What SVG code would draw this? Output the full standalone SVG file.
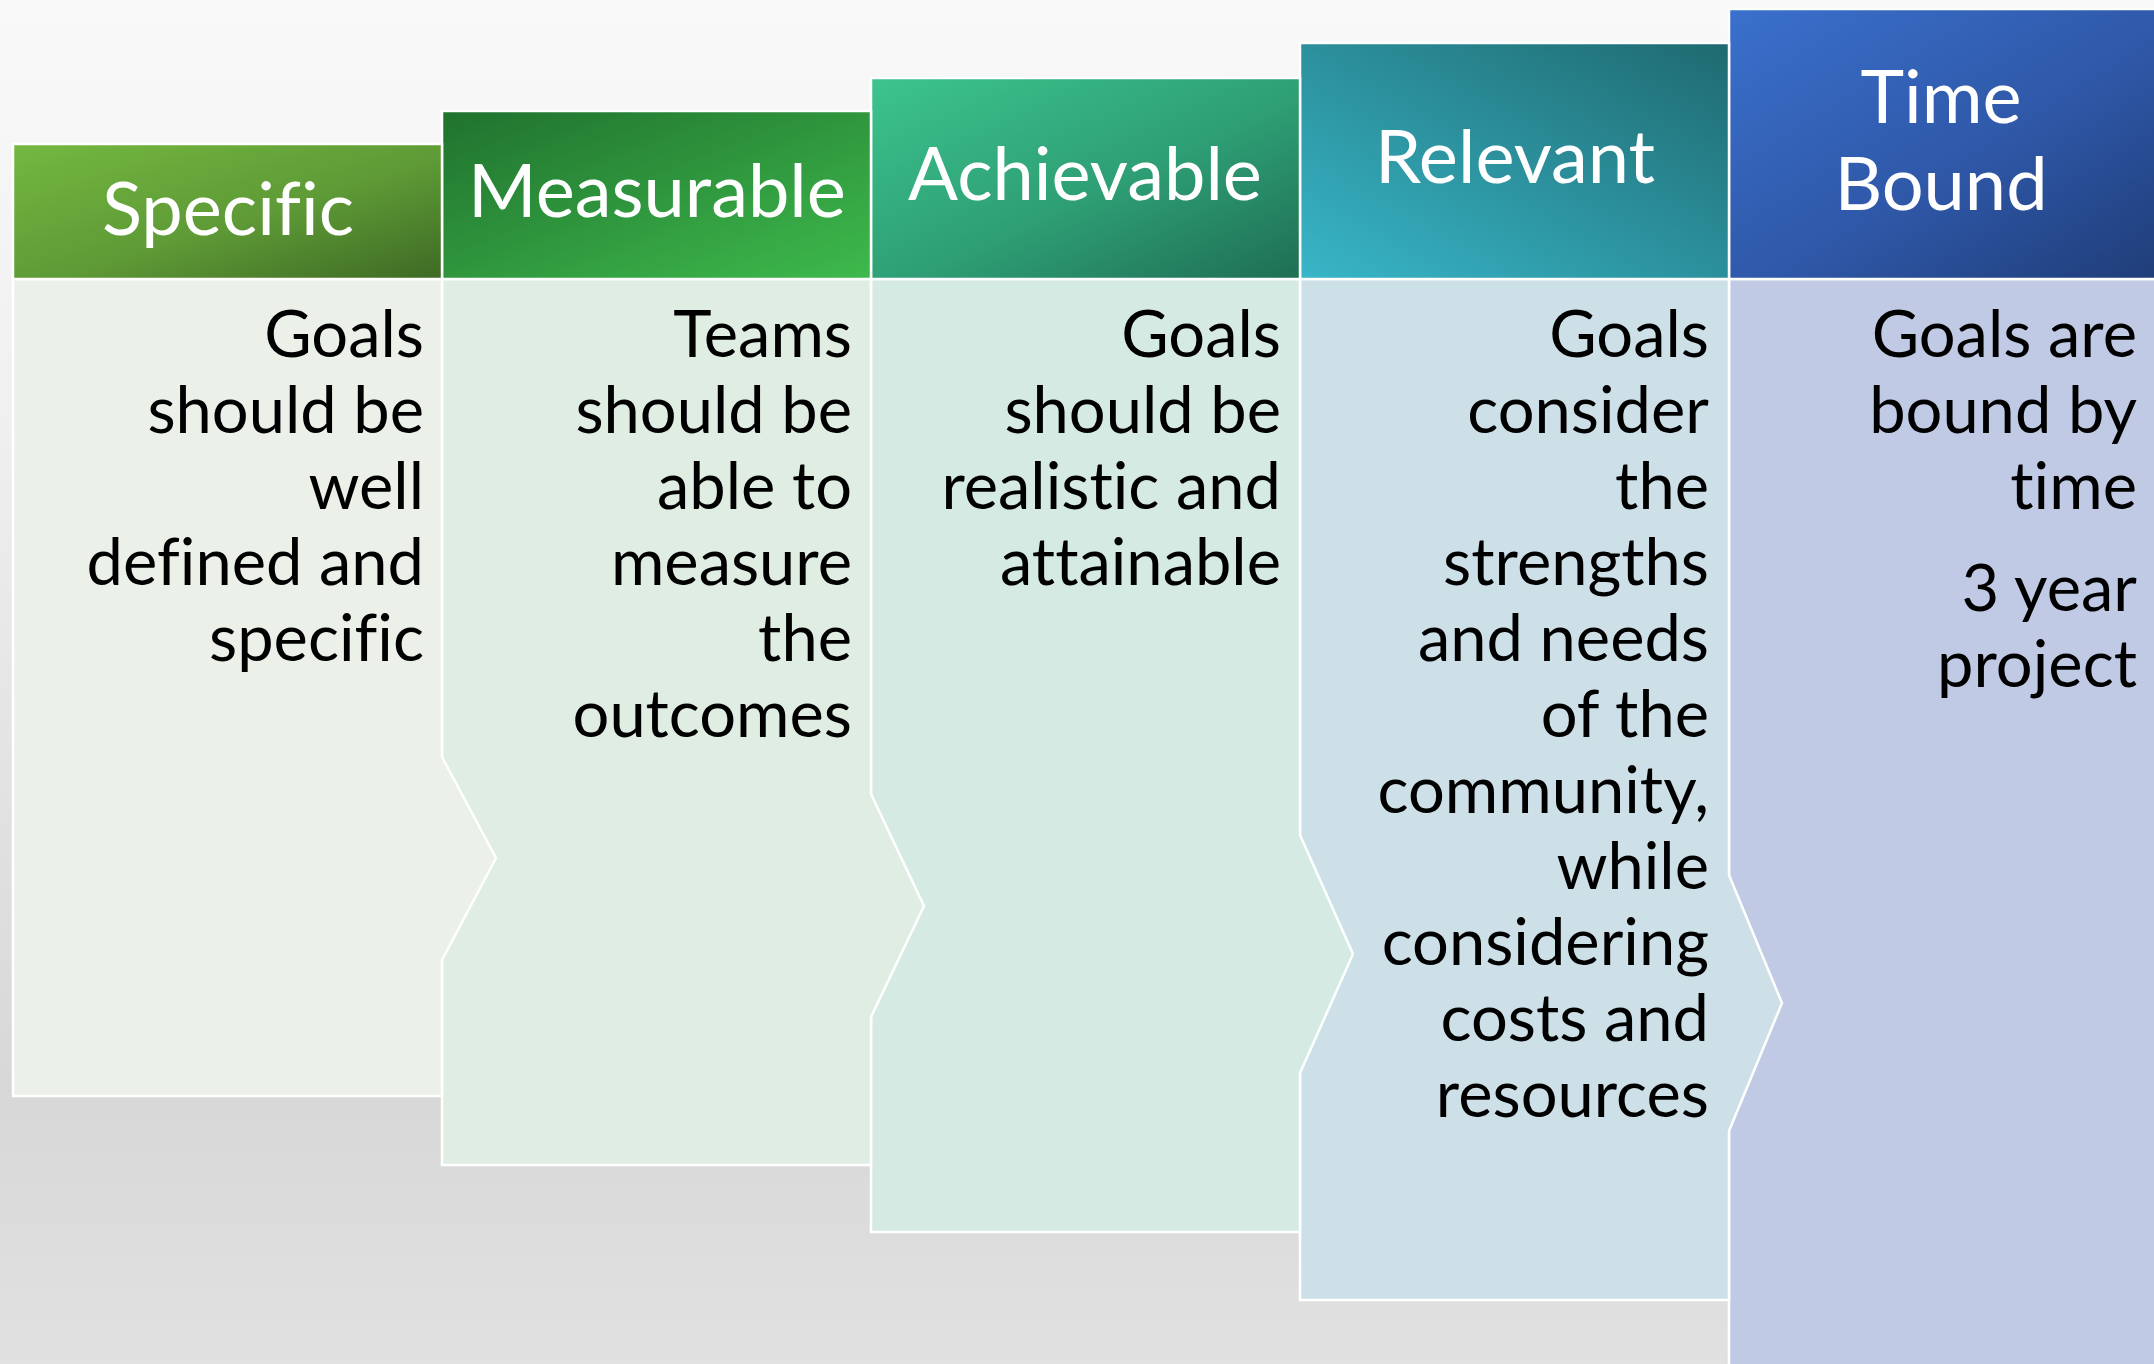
<svg xmlns="http://www.w3.org/2000/svg" width="2154" height="1364" viewBox="0 0 2154 1364">
<defs>
<linearGradient id="bg" x1="0" y1="0" x2="0" y2="1">
<stop offset="0" stop-color="#F9F9F9"/>
<stop offset="0.3" stop-color="#F0F0F0"/>
<stop offset="0.8" stop-color="#D7D7D7"/>
<stop offset="1" stop-color="#E1E1E1"/>
</linearGradient>
<linearGradient id="h1" x1="0" y1="0" x2="1" y2="1"><stop offset="0" stop-color="#74B840"/><stop offset="0.55" stop-color="#5E9A36"/><stop offset="1" stop-color="#3E6A24"/></linearGradient>
<linearGradient id="h2" x1="0" y1="0" x2="1" y2="1"><stop offset="0" stop-color="#20722E"/><stop offset="1" stop-color="#3EBA4C"/></linearGradient>
<linearGradient id="h3" x1="0" y1="0" x2="1" y2="1"><stop offset="0" stop-color="#3CC48E"/><stop offset="0.55" stop-color="#2E9E74"/><stop offset="1" stop-color="#1E6E54"/></linearGradient>
<linearGradient id="h4" x1="1" y1="0" x2="0" y2="1"><stop offset="0" stop-color="#1F6A70"/><stop offset="1" stop-color="#38B6C8"/></linearGradient>
<linearGradient id="h5" x1="0" y1="0" x2="1" y2="1"><stop offset="0" stop-color="#3A70CC"/><stop offset="0.55" stop-color="#2F58A8"/><stop offset="1" stop-color="#1F3D78"/></linearGradient>
</defs>
<style>
.hdr{stroke:#FFFFFF;stroke-width:2.5}
.body{stroke:#FFFFFF;stroke-width:2.5;stroke-linejoin:miter}
.ht{font-family:Lato,"Open Sans","Liberation Sans",sans-serif;font-size:74px;fill:#FFFFFF;text-anchor:middle;font-variant-ligatures:none}
.bt{font-family:Lato,"Open Sans","Liberation Sans",sans-serif;font-size:65px;fill:#000000;text-anchor:end;font-variant-ligatures:none}
</style>
<rect x="0" y="0" width="2154" height="1364" fill="url(#bg)"/>

<g id="col5">
<path class="body" d="M1729,279 H2160 V1370 H1729 Z" fill="#C0CAE5"/>
<rect class="hdr" x="1729" y="9" width="431" height="270" fill="url(#h5)"/>
<text class="ht" x="1941" y="123">Time</text>
<text class="ht" x="1941" y="210">Bound</text>
<text class="bt" x="2137" y="357">Goals are</text>
<text class="bt" x="2137" y="433">bound by</text>
<text class="bt" x="2137" y="509">time</text>
<text class="bt" x="2137" y="611">3 year</text>
<text class="bt" x="2137" y="687">project</text>
</g>

<g id="col4">
<path class="body" d="M1300,279 H1729 V875 L1782,1003 L1729,1131 V1300 H1300 Z" fill="#CDE0E7"/>
<rect class="hdr" x="1300" y="43" width="429" height="236" fill="url(#h4)"/>
<text class="ht" x="1515" y="183">Relevant</text>
<text class="bt" x="1709" y="357">Goals</text>
<text class="bt" x="1709" y="433">consider</text>
<text class="bt" x="1709" y="509">the</text>
<text class="bt" x="1709" y="585">strengths</text>
<text class="bt" x="1709" y="661">and needs</text>
<text class="bt" x="1709" y="737">of the</text>
<text class="bt" x="1709" y="813">community,</text>
<text class="bt" x="1709" y="889">while</text>
<text class="bt" x="1709" y="965">considering</text>
<text class="bt" x="1709" y="1041">costs and</text>
<text class="bt" x="1709" y="1117">resources</text>
</g>

<g id="col3">
<path class="body" d="M871,279 H1300 V835 L1353,954 L1300,1073 V1232 H871 Z" fill="#D5EAE3"/>
<rect class="hdr" x="871" y="78" width="429" height="201" fill="url(#h3)"/>
<text class="ht" x="1085" y="200">Achievable</text>
<text class="bt" x="1281" y="357">Goals</text>
<text class="bt" x="1281" y="433">should be</text>
<text class="bt" x="1281" y="509">realistic and</text>
<text class="bt" x="1281" y="585">attainable</text>
</g>

<g id="col2">
<path class="body" d="M442,279 H871 V794 L924,906 L871,1017 V1165 H442 Z" fill="#E0EDE3"/>
<rect class="hdr" x="442" y="111" width="429" height="168" fill="url(#h2)"/>
<text class="ht" x="657" y="217">Measurable</text>
<text class="bt" x="852" y="357">Teams</text>
<text class="bt" x="852" y="433">should be</text>
<text class="bt" x="852" y="509">able to</text>
<text class="bt" x="852" y="585">measure</text>
<text class="bt" x="852" y="661">the</text>
<text class="bt" x="852" y="737">outcomes</text>
</g>

<g id="col1">
<path class="body" d="M13,279 H442 V757 L496,858 L442,960 V1096 H13 Z" fill="#EBF0E9"/>
<rect class="hdr" x="13" y="144" width="429" height="135" fill="url(#h1)"/>
<text class="ht" x="228" y="235">Specific</text>
<text class="bt" x="424" y="357">Goals</text>
<text class="bt" x="424" y="433">should be</text>
<text class="bt" x="424" y="509">well</text>
<text class="bt" x="424" y="585">defined and</text>
<text class="bt" x="424" y="661">specific</text>
</g>

<g id="connectors"></g>
</svg>
